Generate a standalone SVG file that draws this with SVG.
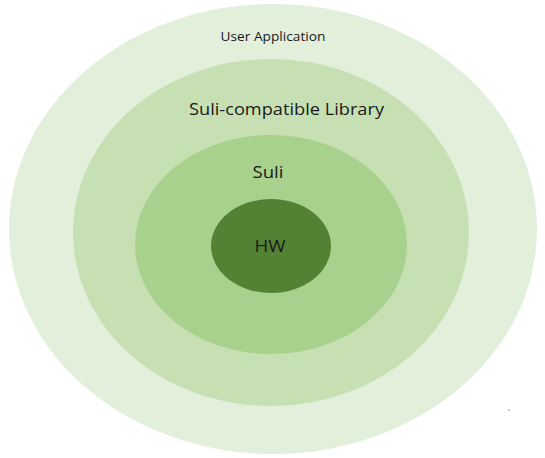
<svg xmlns="http://www.w3.org/2000/svg" width="545" height="458" viewBox="0 0 545 458">
<style>
text{font-family:"Open Sans","Liberation Sans",sans-serif;fill:#1a1a1a;text-anchor:middle}
.s{font-size:17px}
</style>
<rect width="545" height="458" fill="#ffffff"/>
<g id="user-application">
<ellipse cx="273" cy="229" rx="264" ry="225" fill="#E2EFDA"/>
<text x="273" y="41" font-size="12.5" textLength="105" lengthAdjust="spacingAndGlyphs">User Application</text>
</g>
<g id="library">
<ellipse cx="271" cy="232.5" rx="198" ry="173.5" fill="#C6E0B4"/>
<text class="s" x="286.5" y="115" textLength="195" lengthAdjust="spacingAndGlyphs">Suli-compatible Library</text>
</g>
<g id="suli">
<ellipse cx="271" cy="244.5" rx="136" ry="109.5" fill="#A9D18E"/>
<text class="s" x="268" y="178" textLength="31" lengthAdjust="spacingAndGlyphs">Suli</text>
</g>
<g id="hw">
<ellipse cx="271" cy="246" rx="60" ry="47" fill="#548235"/>
<text class="s" x="270" y="252" textLength="31" lengthAdjust="spacingAndGlyphs">HW</text>
</g>
<rect x="508.5" y="409.5" width="1" height="1" fill="#333"/>
</svg>
